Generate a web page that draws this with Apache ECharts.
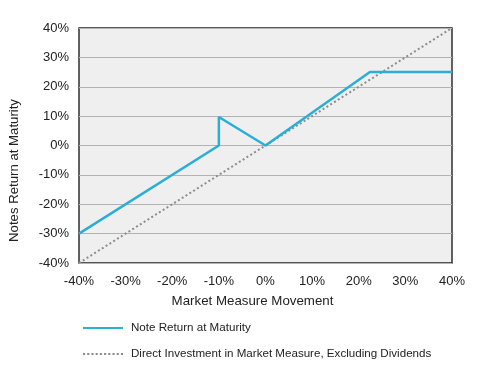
<!DOCTYPE html>
<html><head><meta charset="utf-8">
<script src="https://cdn.jsdelivr.net/npm/echarts@6/dist/echarts.min.js"></script>
<style>html,body{margin:0;padding:0;background:#fff}#c{width:496px;height:375px}</style>
</head><body><div id="c"></div>
<script>
var noteX = [-40, -10, -10, 0, 22.4, 40];
var noteY = [-30, 0, 9.7, 0, 25, 25];
var directX = [-40, 40];
var directY = [-40, 40];
var ticks = [-40, -30, -20, -10, 0, 10, 20, 30, 40];

function pairs(xs, ys){ return xs.map(function(x,i){return [x, ys[i]];}); }

var dotPath = 'path://';
for (var i = 0; i < 10; i++) { var x0 = i * 4; dotPath += 'M' + x0 + ',4L' + (x0 + 2) + ',4L' + (x0 + 2) + ',6L' + x0 + ',6Z'; }

var chart = echarts.init(document.getElementById('c'));
var font = 'Liberation Sans, Arial, sans-serif';
chart.setOption({
  animation: false,
  grid: {left: 79, right: 44, top: 28, bottom: 112, show: true, backgroundColor: '#efefef', borderColor: '#222', borderWidth: 1.4},
  xAxis: {type: 'value', min: ticks[0], max: ticks[ticks.length-1], interval: 10,
    name: 'Market Measure Movement', nameLocation: 'middle', nameGap: 32,
    nameTextStyle: {fontFamily: font, fontSize: 13.3, color: '#222', padding: [0, 26, 0, 0]},
    axisLine: {show: false}, axisTick: {show: false}, splitLine: {show: false},
    axisLabel: {formatter: '{value}%', fontFamily: font, fontSize: 13, color: '#222', margin: 12}},
  yAxis: {type: 'value', min: -40, max: 40, interval: 10,
    name: 'Notes Return at Maturity', nameLocation: 'middle', nameGap: 58,
    nameTextStyle: {fontFamily: font, fontSize: 13.2, color: '#222', padding: [0, 50, 0, 0]},
    axisLine: {show: false}, axisTick: {show: false},
    splitLine: {show: true, lineStyle: {color: '#b3b3b3', width: 1}},
    axisLabel: {formatter: '{value}%', fontFamily: font, fontSize: 13, color: '#222', margin: 10}},
  legend: {orient: 'vertical', left: 83, top: 322, padding: 0, itemWidth: 40, itemHeight: 10, itemGap: 14,
    textStyle: {fontFamily: font, fontSize: 11.6, color: '#222', padding: [0, 0, 0, 3]},
    data: [
      {name: 'Note Return at Maturity', icon: 'path://M0,4L40,4L40,6.2L0,6.2Z'},
      {name: 'Direct Investment in Market Measure, Excluding Dividends', icon: dotPath}
    ]},
  series: [
    {name: 'Direct Investment in Market Measure, Excluding Dividends', type: 'line', data: pairs(directX, directY),
      symbol: 'none', lineStyle: {color: '#8c8c8c', width: 2, type: [2, 2.5]}, itemStyle: {color: '#8c8c8c'}, z: 2},
    {name: 'Note Return at Maturity', type: 'line', data: pairs(noteX, noteY),
      symbol: 'none', lineStyle: {color: '#2aaed6', width: 2.5}, itemStyle: {color: '#2aaed6'}, z: 3}
  ]
});
</script></body></html>
